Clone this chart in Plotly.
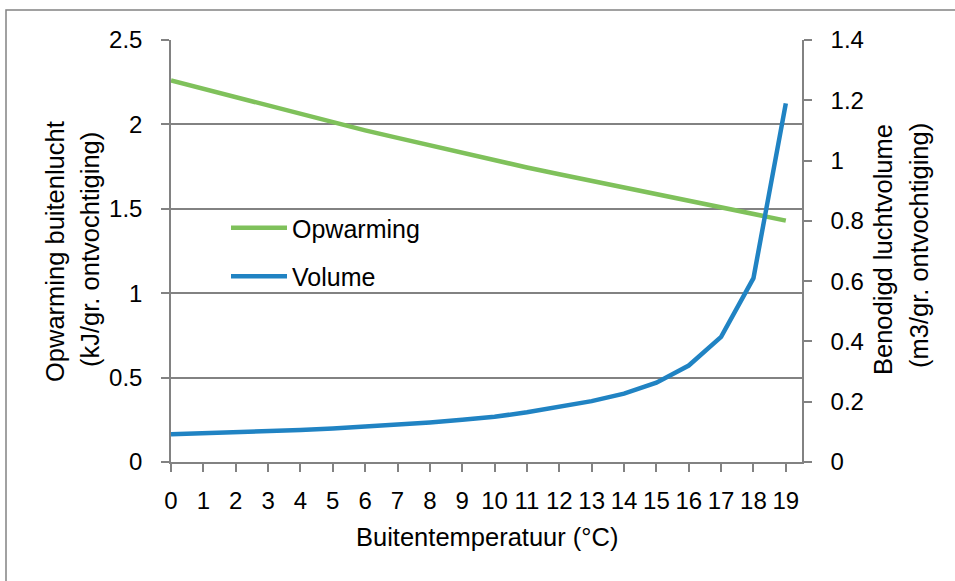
import plotly.graph_objects as go

# Data
temps = list(range(0, 20))
opwarming = [2.26, 2.21, 2.16, 2.11, 2.06, 2.01, 1.965, 1.92, 1.875, 1.83,
             1.79, 1.745, 1.705, 1.665, 1.625, 1.585, 1.545, 1.505, 1.47, 1.43]
volume = [0.092, 0.095, 0.098, 0.102, 0.106, 0.111, 0.117, 0.124, 0.131, 0.140,
          0.150, 0.165, 0.182, 0.202, 0.227, 0.263, 0.320, 0.415, 0.610, 1.190]
series_names = ["Opwarming", "Volume"]
x_title = "Buitentemperatuur (°C)"
y1_title = ["Opwarming buitenlucht", "(kJ/gr. ontvochtiging)"]
y2_title = ["Benodigd luchtvolume", "(m3/gr. ontvochtiging)"]

W, H = 955, 581
L, R, T, B = 171, 802, 40, 462  # plot area pixel bounds


def px(xp):
    return (xp - L) / (R - L)


def py(yp):
    return (B - yp) / (B - T)


GREEN = "#7fc15b"
BLUE = "#2083c3"
GREY = "#828282"
FONT = "Liberation Sans, Arial, Helvetica, sans-serif"

fig = go.Figure()
fig.add_trace(go.Scatter(x=temps, y=opwarming, name=series_names[0], mode="lines",
                         line=dict(color=GREEN, width=4.5), legendgroup="a"))
fig.add_trace(go.Scatter(x=temps, y=volume, name=series_names[1], mode="lines",
                         line=dict(color=BLUE, width=4.5), yaxis="y2", legendgroup="b"))

axis_common = dict(showline=True, linecolor=GREY, linewidth=1.5, ticks="outside",
                   ticklen=8, tickwidth=1.5, tickcolor=GREY, zeroline=False,
                   tickfont=dict(size=24, color="black", family=FONT))

fig.update_layout(
    width=W, height=H,
    margin=dict(l=L, r=W - R, t=T, b=H - B),
    paper_bgcolor="white", plot_bgcolor="white",
    font=dict(family=FONT, size=24, color="black"),
    xaxis=dict(range=[0, 19.5], tickmode="array", tickvals=temps,
               ticktext=[str(t) for t in temps], showgrid=False,
               ticklabelstandoff=8, **axis_common),
    yaxis=dict(range=[0, 2.5], dtick=0.5, tick0=0, showgrid=True, gridcolor=GREY,
               gridwidth=1.5, ticklabelstandoff=14, **axis_common),
    yaxis2=dict(range=[0, 1.4], dtick=0.2, tick0=0, overlaying="y", side="right",
                showgrid=False, ticklabelstandoff=14, **axis_common),
    showlegend=True,
    legend=dict(x=px(226), y=py(205), xanchor="left", yanchor="top",
                bgcolor="rgba(0,0,0,0)", borderwidth=0, tracegroupgap=13,
                itemwidth=56, font=dict(size=25, family=FONT, color="black")),
    shapes=[dict(type="rect", xref="paper", yref="paper",
                 x0=px(6), y0=py(10), x1=px(975), y1=py(600),
                 line=dict(color=GREY, width=1.5), layer="below")],
)

ann = [
    dict(text=x_title, x=px(487), y=py(537)),
    dict(text=y1_title[0], x=px(55), y=py(252), textangle=-90),
    dict(text=y1_title[1], x=px(90), y=py(250), textangle=-90),
    dict(text=y2_title[0], x=px(883), y=py(249), textangle=-90),
    dict(text=y2_title[1], x=px(919), y=py(246), textangle=-90),
]
for a in ann:
    fig.add_annotation(xref="paper", yref="paper", showarrow=False,
                       xanchor="center", yanchor="middle",
                       font=dict(size=25.5, family=FONT, color="black"), **a)

fig.write_html("out.html")
